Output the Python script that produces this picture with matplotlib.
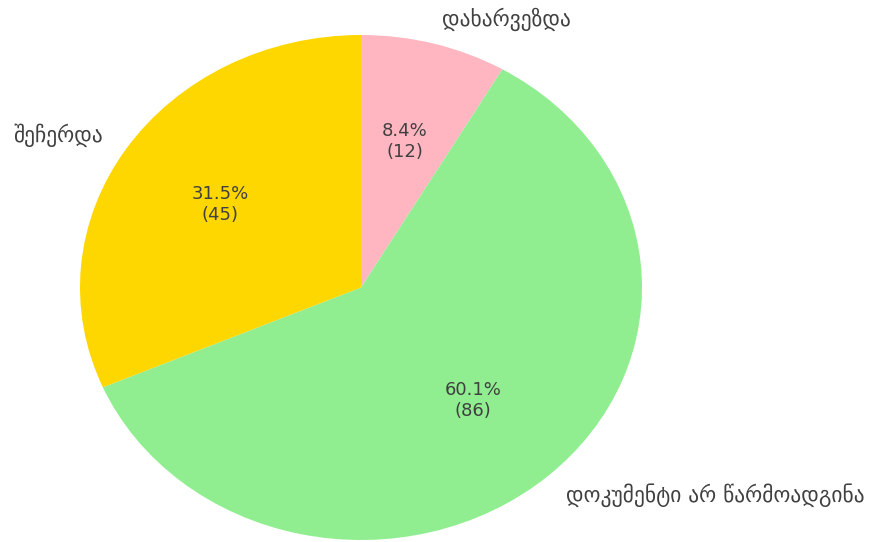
import matplotlib.pyplot as plt

plt.rcParams['font.family'] = ['DejaVu Sans']

labels = ['დახარვეზდა', 'დოკუმენტი არ წარმოადგინა', 'შეჩერდა']
counts = [12, 86, 45]
colors = ['lightpink', 'lightgreen', 'gold']

total = sum(counts)


def fmt(pct):
    n = int(round(pct * total / 100))
    return f'{pct:.1f}%\n({n})'


fig = plt.figure(figsize=(8.75, 5.42), dpi=100)
# stretched pie: axes without equal aspect
ax = fig.add_axes([80 / 875, 1 - 540 / 542, 562 / 875, 505 / 542])

wedges, texts, autotexts = ax.pie(
    counts, labels=labels, colors=colors, autopct=fmt,
    startangle=90, counterclock=False,
    textprops={'color': '#404040', 'fontsize': 13})
for t in texts:
    t.set_fontsize(15.5)

ax.set_xlim(-1, 1)
ax.set_ylim(-1, 1)
ax.set_aspect('auto')

fig.savefig('out.png', dpi=100)
